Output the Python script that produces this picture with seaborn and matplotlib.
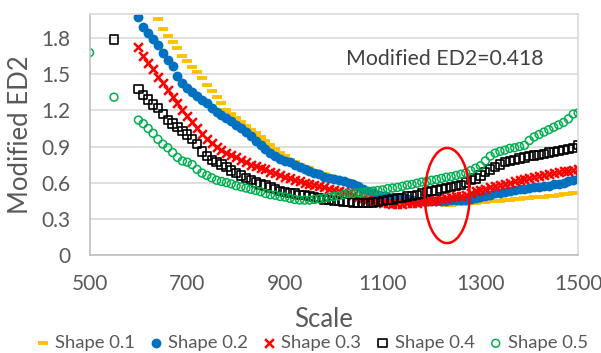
import pandas as pd
import matplotlib.pyplot as plt
from matplotlib.patches import Ellipse
import seaborn as sns

# scale values (x axis)
scale_01 = list(range(640, 1510, 10))
scale_main = list(range(600, 1510, 10))
scale_04 = [550] + scale_main
scale_05 = [500, 550] + scale_main

ed2_01 = [1.96, 1.88, 1.82, 1.77, 1.72, 1.65, 1.61, 1.56, 1.52, 1.47,
          1.41, 1.36, 1.31, 1.26, 1.20, 1.17, 1.14, 1.10, 1.07, 1.04,
          1.01, 0.98, 0.95, 0.91, 0.88, 0.85, 0.82, 0.79, 0.77, 0.75,
          0.73, 0.72, 0.70, 0.68, 0.67, 0.655, 0.64, 0.63, 0.62, 0.61,
          0.595, 0.575, 0.55, 0.53, 0.51, 0.495, 0.485, 0.475, 0.465, 0.46,
          0.455, 0.45, 0.445, 0.44, 0.435, 0.43, 0.425, 0.422, 0.42, 0.418,
          0.418, 0.42, 0.425, 0.428, 0.43, 0.435, 0.44, 0.442, 0.445, 0.448,
          0.45, 0.455, 0.456, 0.46, 0.465, 0.47, 0.475, 0.478, 0.48, 0.483,
          0.488, 0.492, 0.497, 0.502, 0.507, 0.512, 0.517]

ed2_02 = [1.98, 1.89, 1.84, 1.79, 1.74, 1.68, 1.62, 1.57, 1.49, 1.43,
          1.39, 1.35, 1.32, 1.29, 1.26, 1.22, 1.19, 1.16, 1.14, 1.11,
          1.08, 1.05, 1.02, 0.99, 0.95, 0.91, 0.88, 0.85, 0.82, 0.80,
          0.78, 0.77, 0.75, 0.73, 0.71, 0.70, 0.68, 0.67, 0.65, 0.64,
          0.63, 0.62, 0.61, 0.595, 0.585, 0.57, 0.55, 0.53, 0.51, 0.50,
          0.49, 0.48, 0.475, 0.47, 0.465, 0.46, 0.455, 0.45, 0.45, 0.45,
          0.45, 0.45, 0.45, 0.45, 0.452, 0.455, 0.455, 0.457, 0.46, 0.47,
          0.48, 0.49, 0.50, 0.51, 0.515, 0.52, 0.53, 0.535, 0.545, 0.55,
          0.555, 0.56, 0.565, 0.57, 0.575, 0.585, 0.59, 0.60, 0.61, 0.62,
          0.63]

ed2_03 = [1.73, 1.65, 1.59, 1.54, 1.48, 1.43, 1.37, 1.31, 1.26, 1.20,
          1.15, 1.10, 1.05, 1.00, 0.96, 0.93, 0.90, 0.87, 0.85, 0.83,
          0.81, 0.79, 0.77, 0.75, 0.74, 0.72, 0.71, 0.69, 0.68, 0.66,
          0.65, 0.64, 0.62, 0.61, 0.60, 0.59, 0.58, 0.57, 0.56, 0.55,
          0.54, 0.53, 0.52, 0.51, 0.50, 0.48, 0.47, 0.46, 0.45, 0.44,
          0.435, 0.43, 0.425, 0.425, 0.425, 0.43, 0.43, 0.435, 0.44, 0.445,
          0.45, 0.455, 0.465, 0.47, 0.48, 0.485, 0.49, 0.50, 0.515, 0.53,
          0.54, 0.55, 0.56, 0.57, 0.58, 0.59, 0.60, 0.61, 0.62, 0.63,
          0.64, 0.645, 0.655, 0.665, 0.67, 0.68, 0.69, 0.695, 0.70, 0.705,
          0.71]

ed2_04 = [1.79,
          1.38, 1.33, 1.29, 1.25, 1.22, 1.17, 1.12, 1.09, 1.06, 1.03,
          1.00, 0.96, 0.92, 0.86, 0.82, 0.79, 0.77, 0.75, 0.73, 0.70,
          0.68, 0.66, 0.64, 0.62, 0.60, 0.585, 0.575, 0.56, 0.545, 0.53,
          0.52, 0.515, 0.51, 0.50, 0.495, 0.49, 0.48, 0.47, 0.46, 0.455,
          0.45, 0.445, 0.44, 0.44, 0.435, 0.43, 0.43, 0.43, 0.435, 0.44,
          0.45, 0.455, 0.46, 0.47, 0.475, 0.485, 0.49, 0.50, 0.51, 0.52,
          0.53, 0.535, 0.545, 0.555, 0.565, 0.57, 0.58, 0.60, 0.62, 0.635,
          0.66, 0.69, 0.71, 0.73, 0.75, 0.77, 0.78, 0.79, 0.80, 0.81,
          0.82, 0.825, 0.83, 0.84, 0.85, 0.855, 0.865, 0.87, 0.88, 0.89,
          0.91]

ed2_05 = [1.68, 1.31,
          1.12, 1.09, 1.05, 1.01, 0.96, 0.92, 0.89, 0.85, 0.81, 0.78,
          0.77, 0.75, 0.71, 0.68, 0.66, 0.64, 0.62, 0.61, 0.60, 0.59,
          0.575, 0.565, 0.555, 0.545, 0.535, 0.525, 0.51, 0.50, 0.495, 0.485,
          0.48, 0.47, 0.46, 0.455, 0.455, 0.455, 0.46, 0.465, 0.47, 0.48,
          0.485, 0.49, 0.50, 0.51, 0.51, 0.515, 0.52, 0.525, 0.53, 0.535,
          0.54, 0.55, 0.555, 0.56, 0.57, 0.58, 0.585, 0.595, 0.605, 0.61,
          0.62, 0.625, 0.635, 0.645, 0.65, 0.66, 0.67, 0.68, 0.70, 0.72,
          0.74, 0.78, 0.82, 0.845, 0.86, 0.87, 0.885, 0.89, 0.90, 0.91,
          0.95, 0.98, 1.00, 1.02, 1.04, 1.06, 1.08, 1.10, 1.13, 1.17,
          1.18]

series = [('Shape 0.1', scale_01, ed2_01),
          ('Shape 0.2', scale_main, ed2_02),
          ('Shape 0.3', scale_main, ed2_03),
          ('Shape 0.4', scale_04, ed2_04),
          ('Shape 0.5', scale_05, ed2_05)]
df = pd.concat([pd.DataFrame({'Scale': xs, 'ED2': ys, 'Shape': name})
                for name, xs, ys in series])

sns.set_style('white')
plt.rcParams['font.family'] = ['Lato', 'DejaVu Sans']
grey = '#595959'

fig, ax = plt.subplots(figsize=(6.01, 3.53), dpi=100)
fig.subplots_adjust(left=0.149, right=0.962, top=0.960, bottom=0.278)

styles = {
    'Shape 0.1': dict(marker='_', color='#FFC000', s=50, linewidth=2.8),
    'Shape 0.2': dict(marker='o', color='#0070C0', s=50, linewidth=0),
    'Shape 0.3': dict(marker='x', color='#FF0000', s=40, linewidth=1.8),
    'Shape 0.4': dict(marker='s', facecolor='none', edgecolor='black', s=36, linewidth=1.2),
    'Shape 0.5': dict(marker='o', facecolor='none', edgecolor='#00B050', s=32, linewidth=1.1),
}
for name, _, _ in series:
    d = df[df['Shape'] == name]
    sns.scatterplot(data=d, x='Scale', y='ED2', ax=ax, label=name, **styles[name])

# red ellipse marking the minimum region
ax.add_patch(Ellipse((1232, 0.493), 92, 0.79, fill=False, edgecolor='#FF0000', linewidth=1.8, zorder=5))
ax.text(1227, 1.63, 'Modified ED2=0.418', ha='center', va='center', fontsize=15.3, color='#404040')

ax.set_xlim(500, 1500)
ax.set_ylim(0, 2.0)
ax.set_xticks([500, 700, 900, 1100, 1300, 1500])
ax.set_yticks([0, 0.3, 0.6, 0.9, 1.2, 1.5, 1.8])
ax.set_yticklabels(['0', '0.3', '0.6', '0.9', '1.2', '1.5', '1.8'])
ax.grid(axis='y', color='#D9D9D9', linewidth=1.2)
ax.set_axisbelow(True)
for side in ['top', 'right']:
    ax.spines[side].set_color('#D9D9D9')
    ax.spines[side].set_linewidth(1.2)
for side in ['left', 'bottom']:
    ax.spines[side].set_color('#BFBFBF')
    ax.spines[side].set_linewidth(1.2)
ax.tick_params(axis='x', direction='out', length=4.5, width=1.2, color='#BFBFBF', labelsize=15, labelcolor=grey, pad=9)
ax.tick_params(axis='y', length=0, labelsize=15, labelcolor=grey, pad=14)

ax.set_xlabel('Scale', fontsize=18.5, color=grey)
ax.set_ylabel('Modified ED2', fontsize=18.5, color=grey)
ax.xaxis.set_label_coords(0.48, -0.215)
ax.yaxis.set_label_coords(-0.115, 0.5)

ax.legend_.remove()
handles, labels = ax.get_legend_handles_labels()
fig.legend(handles, labels, loc='center', bbox_to_anchor=(0.52, 0.028), ncol=5, frameon=False,
           fontsize=13.3, handlelength=0.6, handletextpad=0.35, columnspacing=0.85,
           labelcolor=grey, borderpad=0, borderaxespad=0)

fig.savefig('out.png', dpi=100)
